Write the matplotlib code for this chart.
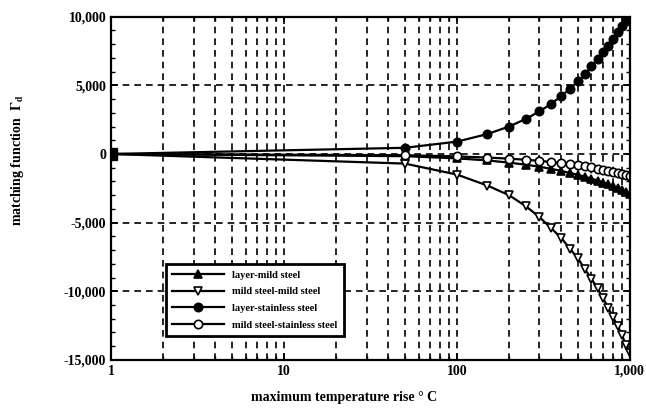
import matplotlib.pyplot as plt
import numpy as np
from matplotlib.ticker import FixedLocator, NullFormatter

temp_rise = [1, 50, 100, 150, 200, 250, 300, 350, 400, 450, 500,
             550, 600, 650, 700, 750, 800, 850, 900, 950, 1000]
layer_mild = [0, -160, -320, -470, -630, -780, -930, -1080, -1230, -1380, -1520,
              -1660, -1800, -1940, -2080, -2220, -2360, -2500, -2640, -2780, -2900]
mild_mild = [0, -700, -1500, -2300, -3000, -3800, -4600, -5400, -6100, -6900, -7600,
             -8400, -9100, -9800, -10500, -11200, -11900, -12500, -13200, -13900, -14500]
layer_stainless = [0, 450, 900, 1450, 2000, 2550, 3100, 3650, 4200, 4750, 5300,
                   5800, 6400, 6900, 7400, 7900, 8400, 8900, 9300, 9700, 10000]
mild_stainless = [0, -90, -180, -260, -340, -420, -500, -580, -660, -740, -820,
                  -900, -980, -1060, -1140, -1220, -1300, -1380, -1460, -1540, -1620]

series = [
    ("layer-mild steel", layer_mild, "^", "black"),
    ("mild steel-mild steel", mild_mild, "v", "white"),
    ("layer-stainless steel", layer_stainless, "o", "black"),
    ("mild steel-stainless steel", mild_stainless, "o", "white"),
]

plt.rcParams["font.family"] = "Liberation Serif"
plt.rcParams["font.weight"] = "bold"
plt.rcParams["axes.labelweight"] = "bold"
plt.rcParams["mathtext.fontset"] = "stix"
fig = plt.figure(figsize=(6.46, 4.08), dpi=100)
ax = fig.add_axes([0.172, 0.118, 0.803, 0.841])

for name, vals, mk, fc in series:
    ax.plot(temp_rise, vals, color="black", lw=1.6, marker=mk, ms=6,
            mfc=fc, mec="black", mew=1.2, label=name)
ax.plot([1], [0], marker="s", ms=8, color="black")

ax.set_xscale("log")
ax.set_xlim(1, 1000)
ax.set_ylim(-15000, 10000)
ax.set_xticks([1, 10, 100, 1000])
ax.set_xticklabels(["1", "10", "100", "1,000"])
ax.xaxis.set_minor_locator(FixedLocator([m * 10 ** d for d in range(3) for m in range(2, 10)]))
ax.xaxis.set_minor_formatter(NullFormatter())
ax.set_yticks([10000, 5000, 0, -5000, -10000, -15000])
ax.set_yticklabels(["10,000", "5,000", "0", "-5,000", "-10,000", "-15,000"])
ax.set_yticks(np.arange(-15000, 10001, 1000), minor=True)

ax.grid(True, which="both", axis="x", color="black", ls=(0, (4, 3)), lw=1.2)
ax.grid(True, which="major", axis="y", color="black", ls=(0, (4, 3)), lw=1.2)
ax.tick_params(which="both", direction="in", top=True, right=True, labelsize=10)
ax.tick_params(which="major", length=5, width=1.2)
ax.tick_params(which="minor", length=3, width=1)
for s in ax.spines.values():
    s.set_linewidth(1.6)

ax.set_xlabel("maximum temperature rise \u00b0 C", fontsize=10)
ax.xaxis.set_label_coords(0.45, -0.09)
ax.set_ylabel(r"matching function  $\mathbf{\Gamma_d}$", fontsize=10)
ax.yaxis.set_label_coords(-0.165, 0.58)

leg = ax.legend(loc="lower left", bbox_to_anchor=(0.095, 0.055), fontsize=7.5,
                frameon=True, fancybox=False, edgecolor="black", framealpha=1,
                handlelength=5, labelspacing=0.7, borderpad=0.6)
leg.get_frame().set_linewidth(2)

fig.savefig("out.png", dpi=100)
